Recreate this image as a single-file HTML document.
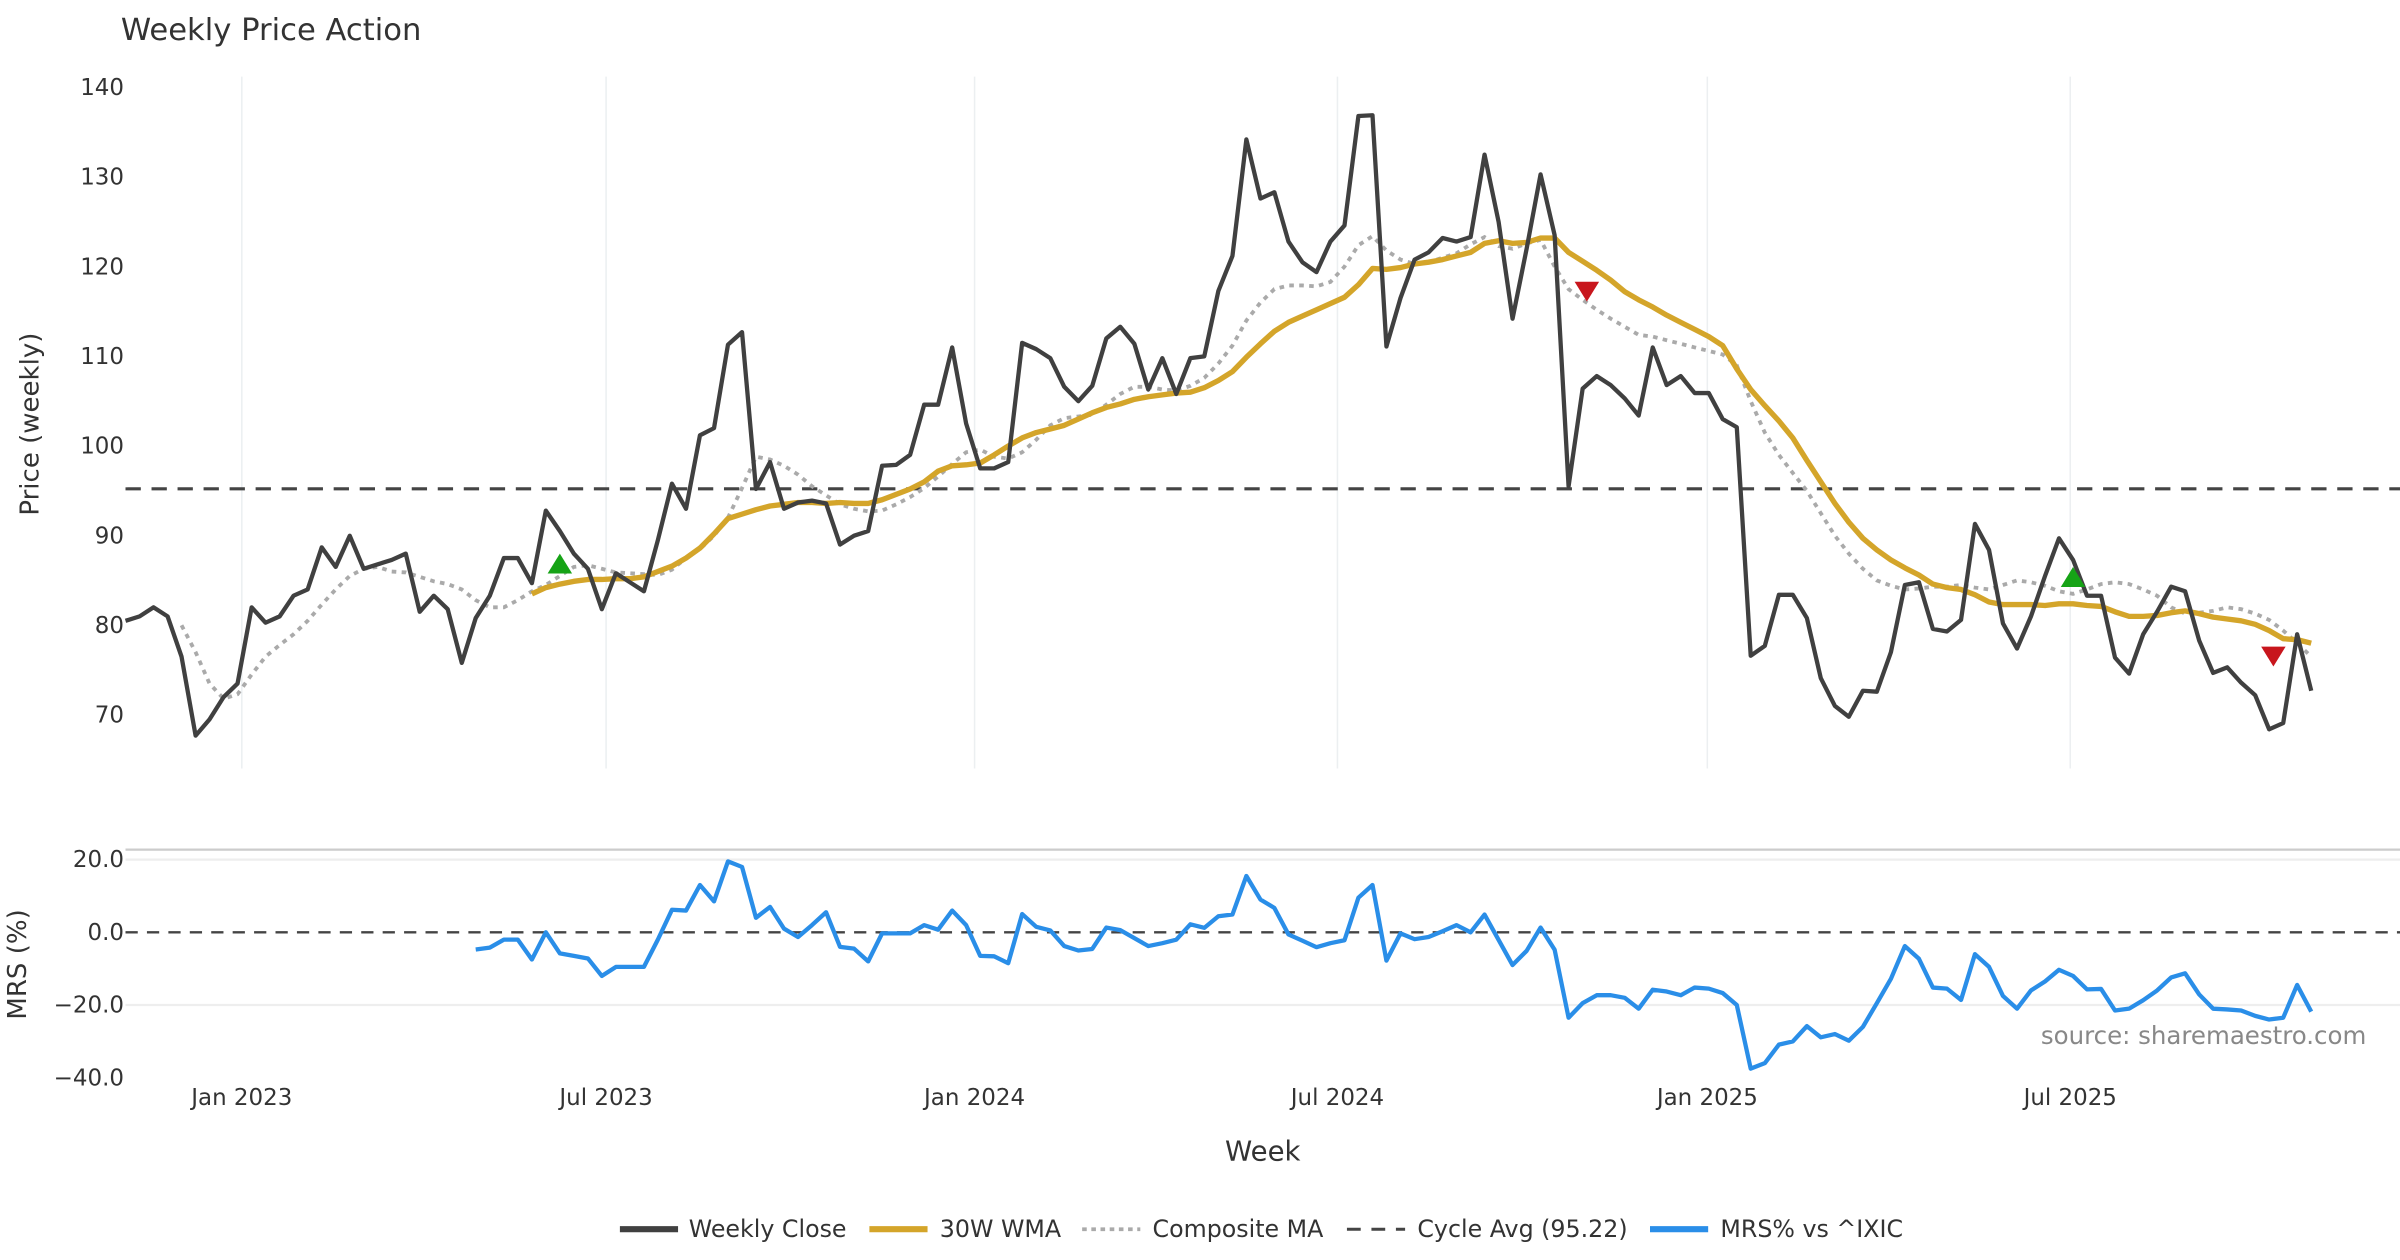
<!DOCTYPE html>
<html><head><meta charset="utf-8"><style>
html,body{margin:0;padding:0;background:#fff;}
svg{display:block;font-family:"DejaVu Sans","Liberation Sans",sans-serif;}
</style></head><body>
<svg id="chart" width="2400" height="1260" viewBox="0 0 1568 823" xmlns="http://www.w3.org/2000/svg">
<rect width="1568" height="823" fill="#fff"/>
<text x="79" y="26" font-size="20" fill="#333">Weekly Price Action</text>
<g id="grid"></g>
<g id="series"></g>
<g id="axes"></g>
<text transform="translate(25,277) rotate(-90)" text-anchor="middle" font-size="17" fill="#333">Price (weekly)</text>
<text transform="translate(17,630) rotate(-90)" text-anchor="middle" font-size="17" fill="#333">MRS (%)</text>
<text x="825" y="758" text-anchor="middle" font-size="18" fill="#333">Week</text>
<text x="1546" y="682" text-anchor="end" font-size="16" fill="#888">source: sharemaestro.com</text>
<g font-size="15.5" fill="#333">
 <g><line x1="405" y1="803" x2="443" y2="803" stroke="#404040" stroke-width="4"/><text x="450" y="808">Weekly Close</text></g>
 <g><line x1="568" y1="803" x2="606" y2="803" stroke="#D4A52A" stroke-width="4"/><text x="614" y="808">30W WMA</text></g>
 <g><line x1="707" y1="803" x2="745" y2="803" stroke="#aaa" stroke-width="2.5" stroke-dasharray="3,3"/><text x="753" y="808">Composite MA</text></g>
 <g><line x1="880" y1="803" x2="918" y2="803" stroke="#444" stroke-width="2" stroke-dasharray="9,7"/><text x="926" y="808">Cycle Avg (95.22)</text></g>
 <g><line x1="1078" y1="803" x2="1116" y2="803" stroke="#2A8EE8" stroke-width="4"/><text x="1124" y="808">MRS% vs ^IXIC</text></g>
</g>
</svg>
<script>
const close = [80.5,81,82,81,76.5,67.7,69.5,72,73.5,82,80.3,81,83.3,84,88.7,86.5,90,86.3,86.8,87.3,88,81.5,83.3,81.8,75.8,80.8,83.3,87.5,87.5,84.7,92.8,90.5,88,86.3,81.8,85.8,84.8,83.8,89.5,95.8,93,101.2,102,111.3,112.7,95.2,98.2,93,93.7,93.9,93.6,89,90,90.5,97.8,97.9,99,104.6,104.6,111,102.5,97.5,97.5,98.2,111.5,110.8,109.8,106.6,105,106.7,112,113.3,111.4,106.3,109.8,105.8,109.8,110,117.3,121.2,134.2,127.6,128.3,122.8,120.5,119.4,122.8,124.6,136.8,136.9,111.1,116.5,120.8,121.6,123.2,122.8,123.3,132.5,125,114.2,122,130.3,123.5,95.5,106.4,107.8,106.8,105.3,103.4,111,106.8,107.8,105.9,105.9,103,102.1,76.6,77.7,83.4,83.4,80.8,74.1,71,69.8,72.7,72.6,77,84.5,84.8,79.6,79.3,80.6,91.3,88.4,80.2,77.4,81,85.5,89.7,87.3,83.3,83.3,76.4,74.6,79,81.5,84.3,83.8,78.3,74.7,75.3,73.6,72.2,68.4,69.1,79,72.7];
const wma = [83.5,84.2,84.6,84.9,85.1,85.1,85.2,85.2,85.4,86,86.6,87.5,88.6,90.2,91.9,92.4,92.9,93.3,93.5,93.7,93.7,93.6,93.7,93.6,93.6,94,94.6,95.2,96,97.2,97.8,97.9,98.1,99,100,100.9,101.5,101.9,102.3,103,103.7,104.3,104.7,105.2,105.5,105.7,105.9,106,106.5,107.3,108.3,109.9,111.4,112.8,113.8,114.5,115.2,115.9,116.6,118,119.8,119.7,119.9,120.3,120.5,120.8,121.2,121.6,122.6,122.9,122.6,122.7,123.2,123.2,121.6,120.6,119.6,118.5,117.2,116.3,115.5,114.6,113.8,113,112.2,111.2,108.6,106.3,104.5,102.8,100.9,98.4,96,93.6,91.5,89.7,88.4,87.3,86.4,85.6,84.6,84.2,84.0,83.4,82.6,82.3,82.3,82.3,82.2,82.4,82.4,82.2,82.1,81.5,81.0,81.0,81.1,81.4,81.6,81.3,80.9,80.7,80.5,80.1,79.4,78.5,78.4,78];
const compositeStart = 4;
const composite = [80,77,73.5,71.8,72.3,74.5,76.5,77.8,79,80.5,82.3,84,85.5,86.3,86.5,86,85.9,85.4,84.9,84.6,84,82.8,82,82,82.8,83.8,84.5,85.5,86.5,86.7,86.3,85.9,85.8,85.7,85.6,86.2,87.5,88.5,90,92,95.3,98.8,98.5,97.8,96.8,95.5,94.5,93.5,93,92.7,92.8,93.5,94.3,95.3,96.6,98,99.3,99.6,98.8,98.6,99.3,100.7,102.3,103.1,103.3,103.5,104.6,105.8,106.6,106.6,106.3,106.2,106.7,107.6,109.2,111.2,114,116,117.5,117.9,117.9,117.8,118.3,120,122.4,123.4,121.8,120.8,120.3,120.5,121,121.5,122.5,123.3,122.3,122,122.6,123,120,117.5,116.3,115.2,114.2,113.3,112.4,112.2,111.8,111.4,111,110.6,110.2,109,105,101.5,99,97,95,92.5,90,88,86.3,85,84.4,84,84.1,84.3,84.3,84.5,84.2,84,84.5,85,84.8,84.4,83.8,83.5,84,84.6,84.8,84.6,84,83.3,82,81.3,81.4,81.6,82,81.8,81.3,80.6,79.4,78,76.5];
const mrs = [-4.7,-4.2,-2,-2,-7.5,0,-5.8,-6.5,-7.2,-12,-9.5,-9.5,-9.5,-2,6.2,6,13,8.5,19.5,18,4,7,1,-1.3,2,5.5,-4,-4.5,-8,-0.3,-0.3,-0.3,2,0.7,6,2,-6.5,-6.6,-8.5,5,1.5,0.5,-3.8,-5,-4.6,1.3,0.6,-1.6,-3.8,-3,-2,2.2,1.2,4.4,4.9,15.5,9,6.7,-0.6,-2.3,-4.1,-3,-2.2,9.5,13,-7.8,-0.3,-1.9,-1.3,0.3,2,0,4.9,-2.1,-9,-5.1,1.3,-4.8,-23.5,-19.5,-17.3,-17.3,-18,-21,-15.8,-16.3,-17.3,-15.2,-15.5,-16.7,-20,-37.5,-36,-30.9,-30,-25.8,-28.9,-28,-29.8,-26,-19.5,-12.8,-3.8,-7.3,-15.2,-15.5,-18.6,-6,-9.5,-17.5,-21,-16,-13.5,-10.3,-12,-15.7,-15.6,-21.5,-21,-18.7,-16,-12.4,-11.3,-17.1,-21,-21.2,-21.5,-23,-24,-23.5,-14.5,-21.8];
const buyIdx = [31, 139];
const buyVal = [86.8, 85.3];
const sellIdx = [104.3, 153.3];
const sellVal = [117.3, 76.6];
const priceTicks = [70,80,90,100,110,120,130,140];
const mrsTicks = [20,0,-20,-40];
const dateLabels = ["Jan 2023","Jul 2023","Jan 2024","Jul 2024","Jan 2025","Jul 2025"];
const dateIdx = [8.3,34.3,60.6,86.5,112.9,138.8];
const cycleAvg = 95.22;

const NS="http://www.w3.org/2000/svg";
const N=close.length;
const x=i=>82+i*(1510-82)/(N-1);
const yP=v=>57+(140-v)*5.857;
const yM=v=>609-v*2.375;
function mk(tag,attrs,parent){const e=document.createElementNS(NS,tag);for(const k in attrs)e.setAttribute(k,attrs[k]);document.getElementById(parent).appendChild(e);return e;}
dateIdx.forEach((d,j)=>{
 const g=mk('line',{x1:x(d),x2:x(d),y1:50,y2:502,stroke:'#eceff1','stroke-width':1},'grid');
 
 
 const t=mk('text',{x:x(d),y:722,'text-anchor':'middle','font-size':15,fill:'#333'},'axes');
 t.textContent=dateLabels[j];
 
 
});
priceTicks.forEach(v=>{
 const t=mk('text',{x:81,y:yP(v)+5,'text-anchor':'end','font-size':15,fill:'#333'},'axes');
 t.textContent=v;
 
 
});
const sep=mk('line',{x1:82,x2:1568,y1:555,y2:555,stroke:'#ccc','stroke-width':1.5},'grid');


mrsTicks.forEach(v=>{
 if(v===20||v===-20){const g=mk('line',{x1:82,x2:1568,y1:yM(v),y2:yM(v),stroke:'#eee','stroke-width':1.5},'grid');
  
  }
 const t=mk('text',{x:81,y:yM(v)+5,'text-anchor':'end','font-size':15,fill:'#333'},'axes');
 t.textContent=(v<0?'\u2212'+(-v).toFixed(1):v.toFixed(1));
 
 
});
const ca=mk('line',{x1:82,x2:1568,y1:yP(cycleAvg),y2:yP(cycleAvg),stroke:'#444','stroke-width':2,'stroke-dasharray':'10,7'},'series');


const z=mk('line',{x1:82,x2:1568,y1:yM(0),y2:yM(0),stroke:'#444','stroke-width':1.5,'stroke-dasharray':'8,6'},'series');


function path(arr,yf,s){if(s===undefined)s=N-arr.length;return arr.map((v,i)=>(i?'L':'M')+x(s+i).toFixed(1)+','+yf(v).toFixed(1)).join(' ');}
const pc=mk('path',{d:path(composite,yP,compositeStart),fill:'none',stroke:'#aaa','stroke-width':2.5,'stroke-dasharray':'3,3.5'},'series');


const pw=mk('path',{d:path(wma,yP),fill:'none',stroke:'#D4A52A','stroke-width':3.5,'stroke-linejoin':'round'},'series');


const pcl=mk('path',{d:path(close,yP),fill:'none',stroke:'#404040','stroke-width':2.8,'stroke-linejoin':'round'},'series');


const pm=mk('path',{d:path(mrs,yM),fill:'none',stroke:'#2A8EE8','stroke-width':2.8,'stroke-linejoin':'round'},'series');


buyIdx.forEach((d,j)=>{const cx=x(d),cy=yP(buyVal[j]);
 const p=mk('polygon',{points:`${cx-8},${cy+6} ${cx+8},${cy+6} ${cx},${cy-7}`,fill:'#16A316'},'series');
 
 });
sellIdx.forEach((d,j)=>{const cx=x(d),cy=yP(sellVal[j]);
 const p=mk('polygon',{points:`${cx-8},${cy-6} ${cx+8},${cy-6} ${cx},${cy+7}`,fill:'#C8161D'},'series');
 
 });
</script>
</body></html>
